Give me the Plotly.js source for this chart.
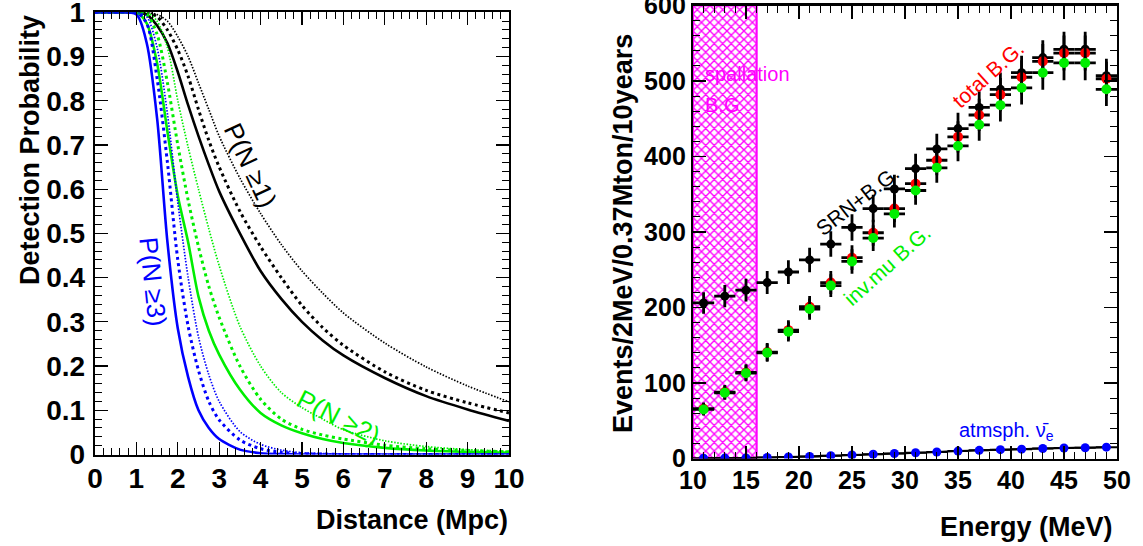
<!DOCTYPE html>
<html>
<head>
<meta charset="utf-8">
<script src="https://cdn.plot.ly/plotly-3.0.1.min.js"></script>
<style>html,body{margin:0;padding:0;background:#fff;}#chart{width:1143px;height:546px;}</style>
</head>
<body>
<div id="chart"></div>
<script>
// ---------- Left panel: detection probability vs distance ----------
const distance = [0, 0.5, 1, 1.25, 1.5, 1.75, 2, 2.25, 2.5, 2.75, 3, 3.5, 4, 4.5, 5, 5.5, 6, 7, 8, 9, 10];

const pN1_solid  = [1, 1, 1.0, 0.995, 0.97, 0.93, 0.865, 0.79, 0.72, 0.655, 0.595, 0.50, 0.415, 0.352, 0.300, 0.258, 0.224, 0.173, 0.132, 0.102, 0.076];
const pN1_dashed = [1, 1, 1.0, 1.0, 0.99, 0.96, 0.915, 0.855, 0.78, 0.71, 0.65, 0.55, 0.47, 0.40, 0.337, 0.287, 0.247, 0.187, 0.145, 0.117, 0.094];
const pN1_dotted = [1, 1, 1.0, 1.0, 0.995, 0.98, 0.945, 0.90, 0.84, 0.78, 0.72, 0.625, 0.545, 0.475, 0.415, 0.365, 0.32, 0.252, 0.198, 0.155, 0.119];

const pN2_solid  = [1, 1, 1.0, 0.975, 0.885, 0.73, 0.585, 0.48, 0.357, 0.28, 0.226, 0.147, 0.094, 0.066, 0.048, 0.035, 0.026, 0.015, 0.009, 0.006, 0.004];
const pN2_dashed = [1, 1, 1.0, 0.995, 0.95, 0.84, 0.70, 0.575, 0.47, 0.38, 0.31, 0.20, 0.125, 0.08, 0.057, 0.044, 0.035, 0.021, 0.013, 0.009, 0.006];
const pN2_dotted = [1, 1, 1.0, 1.0, 0.98, 0.92, 0.80, 0.695, 0.60, 0.51, 0.427, 0.29, 0.20, 0.14, 0.106, 0.08, 0.056, 0.031, 0.018, 0.011, 0.007];

const pN3_solid  = [1, 1, 0.995, 0.93, 0.76, 0.48, 0.285, 0.175, 0.10, 0.06, 0.035, 0.011, 0.003, 0.001, 0, 0, 0, 0, 0, 0, 0];
const pN3_dashed = [1, 1, 1.0, 0.975, 0.85, 0.66, 0.44, 0.29, 0.19, 0.12, 0.078, 0.033, 0.013, 0.005, 0.002, 0.001, 0, 0, 0, 0, 0];
const pN3_dotted = [1, 1, 1.0, 0.99, 0.92, 0.77, 0.57, 0.40, 0.266, 0.18, 0.12, 0.052, 0.023, 0.01, 0.004, 0.002, 0.001, 0, 0, 0, 0];

const leftTicksX = [0,1,2,3,4,5,6,7,8,9,10];
const leftTicksY = [0,0.1,0.2,0.3,0.4,0.5,0.6,0.7,0.8,0.9,1];

// ---------- Right panel: energy spectrum ----------
const energy = [11,13,15,17,19,21,23,25,27,29,31,33,35,37,39,41,43,45,47,49];
const srnPlusBG = [206, 215, 223, 233, 247, 263, 284, 306, 331, 357, 384, 410, 437, 465, 489, 511, 531, 542, 542, 507];
const totalBG   = [66, 88, 114, 141, 170, 201, 233, 266, 299, 331, 364, 395, 426, 455, 482, 505, 526, 537, 537, 503];
const invMuBG   = [65, 87, 113, 140, 168, 198, 229, 261, 292, 324, 355, 385, 414, 442, 468, 491, 511, 524, 524, 489];
const atmNue    = [0.3, 0.5, 0.8, 1.3, 2.0, 2.8, 3.6, 4.6, 5.6, 6.6, 7.6, 8.6, 9.8, 10.8, 11.7, 12.4, 13.2, 13.9, 14.3, 15.0];
const spallationRange = [10, 16];
const rightTicksX = [10,15,20,25,30,35,40,45,50];
const rightTicksY = [0,100,200,300,400,500,600];

const W = 1143, H = 546;
const px = v => v / W;
const py = v => 1 - v / H;

const BLUE = '#0000ff', GREEN = '#00ee00', RED = '#ff0000', MAG = '#ff00ff';
const FONT = 'Liberation Sans, Arial, Helvetica, sans-serif';

function curve(y, color, style) {
  let line;
  if (style === 'solid') line = {color: color, width: 2.6, dash: 'solid', shape: 'spline', smoothing: 0.8};
  else if (style === 'dashed') line = {color: color, width: 3, dash: '3px,3.5px', shape: 'spline', smoothing: 0.8};
  else line = {color: color, width: 1.7, dash: '1.5px,1.6px', shape: 'spline', smoothing: 0.8};
  return {x: distance, y: y, type: 'scatter', mode: 'lines', line: line, xaxis: 'x', yaxis: 'y', hoverinfo: 'skip', showlegend: false};
}

const errBars = vals => vals.map(v => Math.sqrt(v));

const traces = [
  curve(pN1_dotted, 'black', 'dotted'),
  curve(pN1_dashed, 'black', 'dashed'),
  curve(pN1_solid, 'black', 'solid'),
  curve(pN2_dotted, GREEN, 'dotted'),
  curve(pN2_dashed, GREEN, 'dashed'),
  curve(pN2_solid, GREEN, 'solid'),
  curve(pN3_dotted, BLUE, 'dotted'),
  curve(pN3_dashed, BLUE, 'dashed'),
  curve(pN3_solid, BLUE, 'solid'),
  // spallation hatched region
  {
    x: [(spallationRange[0] + spallationRange[1]) / 2], y: [600], base: [0],
    width: [spallationRange[1] - spallationRange[0]],
    type: 'bar', xaxis: 'x2', yaxis: 'y2', showlegend: false, hoverinfo: 'skip',
    marker: {color: MAG, line: {color: MAG, width: 2.2},
             pattern: {shape: 'x', fgcolor: MAG, bgcolor: '#ffffff', size: 6, solidity: 0.4}}
  },
  // atmospheric nu_e bar
  {
    x: energy, y: atmNue, type: 'scatter', mode: 'lines+markers', xaxis: 'x2', yaxis: 'y2',
    line: {color: 'black', width: 2, shape: 'spline'},
    marker: {color: BLUE, size: 9, symbol: 'circle'},
    error_x: {type: 'constant', value: 1, color: 'black', thickness: 2, width: 0},
    showlegend: false, hoverinfo: 'skip'
  },
  {
    x: energy, y: srnPlusBG, type: 'scatter', mode: 'markers', xaxis: 'x2', yaxis: 'y2',
    marker: {color: 'black', size: 9},
    error_x: {type: 'constant', value: 1, color: 'black', thickness: 2.8, width: 0},
    error_y: {type: 'data', array: errBars(srnPlusBG), color: 'black', thickness: 2.8, width: 0},
    showlegend: false, hoverinfo: 'skip'
  },
  {
    x: energy, y: totalBG, type: 'scatter', mode: 'markers', xaxis: 'x2', yaxis: 'y2',
    marker: {color: RED, size: 10},
    error_x: {type: 'constant', value: 1, color: 'black', thickness: 2.8, width: 0},
    error_y: {type: 'data', array: errBars(totalBG), color: 'black', thickness: 2.8, width: 0},
    showlegend: false, hoverinfo: 'skip'
  },
  {
    x: energy, y: invMuBG, type: 'scatter', mode: 'markers', xaxis: 'x2', yaxis: 'y2',
    marker: {color: GREEN, size: 10},
    error_x: {type: 'constant', value: 1, color: 'black', thickness: 2.8, width: 0},
    error_y: {type: 'data', array: errBars(invMuBG), color: 'black', thickness: 2.8, width: 0},
    showlegend: false, hoverinfo: 'skip'
  }
];

const axBase = {
  showline: true, linecolor: 'black', linewidth: 2.2, mirror: 'allticks',
  ticks: 'inside', ticklen: 13, tickwidth: 1.3, tickcolor: 'black',
  showgrid: false, zeroline: false, automargin: false, fixedrange: true,
  ticklabeloverflow: 'allow'
};

const layout = {
  width: W, height: H,
  margin: {l: 0, r: 0, t: 0, b: 0},
  paper_bgcolor: 'white', plot_bgcolor: 'white',
  showlegend: false, bargap: 0,
  font: {family: FONT, color: 'black'},
  xaxis: Object.assign({}, axBase, {
    domain: [px(95), px(509)], range: [0, 10], anchor: 'y',
    tickvals: leftTicksX, ticktext: leftTicksX.map(String),
    tickfont: {family: FONT, size: 28, weight: 'bold'}, ticklabelstandoff: -2,
    minor: {ticks: 'inside', ticklen: 7, dtick: 0.2, tickwidth: 1, tickcolor: 'black'}
  }),
  yaxis: Object.assign({}, axBase, {
    domain: [py(454.5), py(12.3)], range: [0, 1], anchor: 'x',
    tickvals: leftTicksY, ticktext: leftTicksY.map(String),
    tickfont: {family: FONT, size: 28, weight: 'bold'}, ticklabelstandoff: 2,
    minor: {ticks: 'inside', ticklen: 7, dtick: 0.02, tickwidth: 1, tickcolor: 'black'}
  }),
  xaxis2: Object.assign({}, axBase, {
    domain: [px(693), px(1117)], range: [10, 50], anchor: 'y2',
    tickvals: rightTicksX, ticktext: rightTicksX.map(String),
    tickfont: {family: FONT, size: 25, weight: 'bold'}, ticklabelstandoff: -2,
    minor: {ticks: 'inside', ticklen: 7, dtick: 1, tickwidth: 1, tickcolor: 'black'}
  }),
  yaxis2: Object.assign({}, axBase, {
    domain: [py(458.5), py(5.5)], range: [0, 600], anchor: 'x2',
    tickvals: rightTicksY, ticktext: rightTicksY.map(String),
    tickfont: {family: FONT, size: 25, weight: 'bold'}, ticklabelstandoff: 0,
    minor: {ticks: 'inside', ticklen: 7, dtick: 20, tickwidth: 1, tickcolor: 'black'}
  }),
  annotations: [
    // axis titles
    {text: 'Detection Probability', xref: 'paper', yref: 'paper', x: px(30), y: py(150), textangle: -90,
     showarrow: false, xanchor: 'center', yanchor: 'middle', font: {family: FONT, size: 27, weight: 'bold'}},
    {text: 'Distance (Mpc)', xref: 'paper', yref: 'paper', x: px(510), y: py(520), showarrow: false,
     xanchor: 'right', yanchor: 'middle', font: {family: FONT, size: 27, weight: 'bold'}},
    {text: 'Events/2MeV/0.37Mton/10years', xref: 'paper', yref: 'paper', x: px(623), y: py(234), textangle: -90,
     showarrow: false, xanchor: 'center', yanchor: 'middle', font: {family: FONT, size: 27, weight: 'bold'}},
    {text: 'Energy (MeV)', xref: 'paper', yref: 'paper', x: px(1115), y: py(527), showarrow: false,
     xanchor: 'right', yanchor: 'middle', font: {family: FONT, size: 27, weight: 'bold'}},
    // left panel labels
    {text: 'P(N \u22651)', xref: 'x', yref: 'y', x: 3.75, y: 0.655, textangle: 65, showarrow: false,
     font: {family: FONT, size: 26, color: 'black'}},
    {text: 'P(N \u22653)', xref: 'x', yref: 'y', x: 1.4, y: 0.39, textangle: 84, showarrow: false,
     font: {family: FONT, size: 26, color: BLUE}},
    {text: 'P(N \u22652)', xref: 'x', yref: 'y', x: 5.87, y: 0.085, textangle: 27, showarrow: false,
     font: {family: FONT, size: 26, color: GREEN}},
    // right panel labels
    {text: 'spallation', xref: 'x2', yref: 'y2', x: 10.9, y: 509, xanchor: 'left', showarrow: false,
     font: {family: FONT, size: 20, color: MAG}},
    {text: 'B.G', xref: 'x2', yref: 'y2', x: 10.9, y: 468, xanchor: 'left', showarrow: false,
     font: {family: FONT, size: 20, color: MAG}},
    {text: 'total B.G.', xref: 'x2', yref: 'y2', x: 37.8, y: 509, textangle: -42, showarrow: false,
     font: {family: FONT, size: 21, color: RED}},
    {text: 'SRN+B.G.', xref: 'x2', yref: 'y2', x: 25.5, y: 342, textangle: -38, showarrow: false,
     font: {family: FONT, size: 21, color: 'black'}},
    {text: 'inv.mu B.G.', xref: 'x2', yref: 'y2', x: 28.3, y: 256, textangle: -42, showarrow: false,
     font: {family: FONT, size: 21, color: GREEN}},
    {text: 'atmsph. \u03bd\u0304<sub>e</sub>', xref: 'x2', yref: 'y2', x: 39.6, y: 36, showarrow: false,
     font: {family: FONT, size: 20, color: BLUE}}
  ]
};

Plotly.newPlot('chart', traces, layout, {staticPlot: true, displayModeBar: false});
</script>
</body>
</html>
